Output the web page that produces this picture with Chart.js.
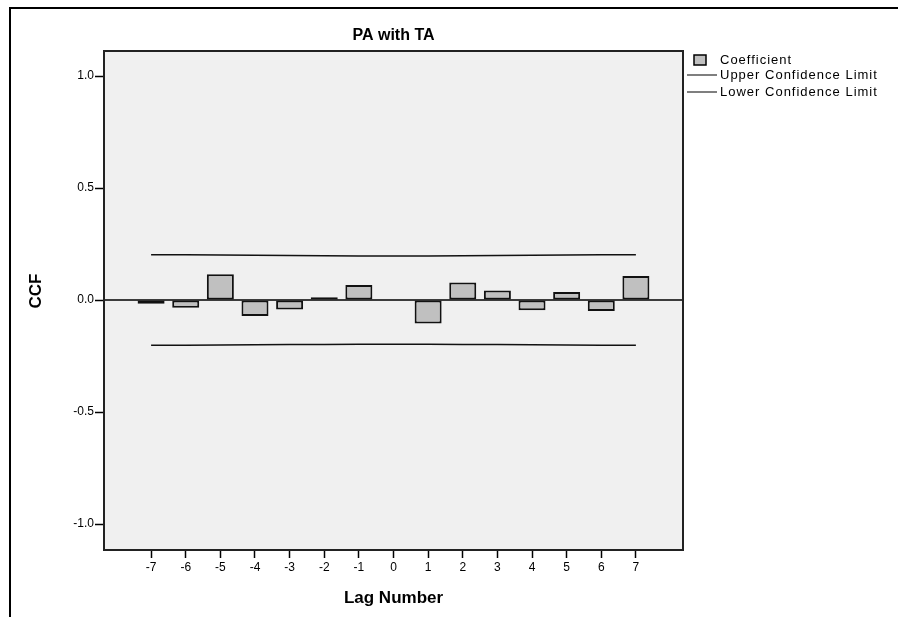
<!DOCTYPE html>
<html>
<head>
<meta charset="utf-8">
<title>PA with TA</title>
<script src="https://cdn.jsdelivr.net/npm/chart.js@4/dist/chart.umd.min.js"></script>
<style>
    html, body { margin: 0; padding: 0; background: #fff; }
    #wrap { width: 898px; height: 617px; position: relative; }
</style>
</head>
<body>
<div id="wrap"><canvas id="ccfChart" width="898" height="617"></canvas></div>
<script>
// Lag numbers and cross-correlation values
const lags = [-7, -6, -5, -4, -3, -2, -1, 0, 1, 2, 3, 4, 5, 6, 7];
const coefficient = [-0.017, -0.034, 0.115, -0.071, -0.042, 0.013, 0.067, 0.0, -0.105, 0.078, 0.043, -0.046, 0.036, -0.049, 0.107];
const upperLimit = [0.202, 0.202, 0.201, 0.200, 0.199, 0.198, 0.197, 0.197, 0.197, 0.198, 0.199, 0.200, 0.201, 0.202, 0.202];
const lowerLimit = [-0.202, -0.202, -0.201, -0.200, -0.199, -0.198, -0.197, -0.197, -0.197, -0.198, -0.199, -0.200, -0.201, -0.202, -0.202];
const yTicks = [-1.0, -0.5, 0.0, 0.5, 1.0];
const xTicks = lags;

const FONT = '"Liberation Sans", Arial, sans-serif';

/**
 * Plot background, frame, titles and legend (SPSS style)
 */
const spssDecor = {
    id: 'spssDecor',
    beforeDatasetsDraw(chart) {
        const { ctx, chartArea: a } = chart;
        ctx.save();
        ctx.fillStyle = '#f0f0f0';
        ctx.fillRect(a.left, a.top, a.right - a.left, a.bottom - a.top);
        // zero reference line
        const y0 = chart.scales.y.getPixelForValue(0);
        ctx.strokeStyle = '#000';
        ctx.lineWidth = 1.5;
        ctx.beginPath();
        ctx.moveTo(a.left, y0);
        ctx.lineTo(a.right, y0);
        ctx.stroke();
        ctx.restore();
    },
    afterDraw(chart) {
        const { ctx, chartArea: a } = chart;
        ctx.save();
        // plot frame
        ctx.strokeStyle = '#222';
        ctx.lineWidth = 2;
        ctx.strokeRect(a.left, a.top, a.right - a.left, a.bottom - a.top);

        // outer frame (left and top edges)
        ctx.strokeStyle = '#000';
        ctx.lineWidth = 2;
        ctx.beginPath();
        ctx.moveTo(10, 617);
        ctx.lineTo(10, 8);
        ctx.lineTo(898, 8);
        ctx.stroke();

        // titles
        ctx.fillStyle = '#000';
        ctx.textAlign = 'center';
        ctx.textBaseline = 'middle';
        ctx.font = 'bold 16px ' + FONT;
        const cx = (a.left + a.right) / 2;
        ctx.fillText('PA with TA', cx, 36);
        ctx.font = 'bold 17px ' + FONT;
        ctx.fillText('Lag Number', cx, 598);
        ctx.save();
        ctx.translate(36, 291);
        ctx.rotate(-Math.PI / 2);
        ctx.fillText('CCF', 0, 0);
        ctx.restore();

        // legend
        ctx.font = '13px ' + FONT;
        ctx.letterSpacing = '1px';
        ctx.textAlign = 'left';
        ctx.fillStyle = '#c0c0c0';
        ctx.fillRect(694, 55, 12, 10);
        ctx.strokeStyle = '#000';
        ctx.lineWidth = 1.5;
        ctx.strokeRect(694, 55, 12, 10);
        ctx.fillStyle = '#000';
        ctx.fillText('Coefficient', 720, 60);
        ctx.lineWidth = 1.2;
        ctx.beginPath();
        ctx.moveTo(687, 75); ctx.lineTo(717, 75);
        ctx.moveTo(687, 92); ctx.lineTo(717, 92);
        ctx.stroke();
        ctx.fillText('Upper Confidence Limit', 720, 75);
        ctx.fillText('Lower Confidence Limit', 720, 92);
        ctx.restore();
    }
};

function buildChart() {
    const ctx = document.getElementById('ccfChart');
    return new Chart(ctx, {
        type: 'bar',
        data: {
            datasets: [{
                type: 'line',
                label: 'Upper Confidence Limit',
                data: lags.map((l, i) => ({ x: l, y: upperLimit[i] })),
                borderColor: '#111',
                borderWidth: 1.5,
                pointRadius: 0,
                fill: false,
                tension: 0
            }, {
                type: 'line',
                label: 'Lower Confidence Limit',
                data: lags.map((l, i) => ({ x: l, y: lowerLimit[i] })),
                borderColor: '#111',
                borderWidth: 1.5,
                pointRadius: 0,
                fill: false,
                tension: 0
            }, {
                label: 'Coefficient',
                data: lags.map((l, i) => ({ x: l, y: coefficient[i] })),
                backgroundColor: '#c0c0c0',
                borderColor: '#111',
                borderWidth: 2,
                borderSkipped: false,
                categoryPercentage: 1.0,
                barPercentage: 0.78
            }]
        },
        options: {
            responsive: false,
            animation: false,
            events: [],
            layout: { padding: { left: 0, top: 51, right: 215, bottom: 0 } },
            plugins: {
                legend: { display: false },
                title: { display: false },
                tooltip: { enabled: false }
            },
            scales: {
                x: {
                    type: 'linear',
                    min: -8.36,
                    max: 8.36,
                    offset: false,
                    afterBuildTicks: scale => { scale.ticks = xTicks.map(v => ({ value: v })); },
                    afterFit: scale => { scale.height = 67; },
                    grid: { offset: false, drawOnChartArea: false, tickColor: '#000', tickLength: 8, tickWidth: 1.5 },
                    border: { display: false },
                    ticks: {
                        color: '#000',
                        font: { family: FONT, size: 12 },
                        padding: 2,
                        maxRotation: 0,
                        callback: v => String(v)
                    }
                },
                y: {
                    min: -1.116,
                    max: 1.112,
                    afterBuildTicks: scale => { scale.ticks = yTicks.map(v => ({ value: v })); },
                    afterFit: scale => { scale.width = 104; },
                    grid: { drawOnChartArea: false, tickColor: '#000', tickLength: 9, tickWidth: 1.5 },
                    border: { display: false },
                    ticks: {
                        color: '#000',
                        font: { family: FONT, size: 12 },
                        padding: 1,
                        callback: v => v.toFixed(1)
                    }
                }
            }
        },
        plugins: [spssDecor]
    });
}

document.addEventListener('DOMContentLoaded', function() {
    buildChart();
});
</script>
</body>
</html>
